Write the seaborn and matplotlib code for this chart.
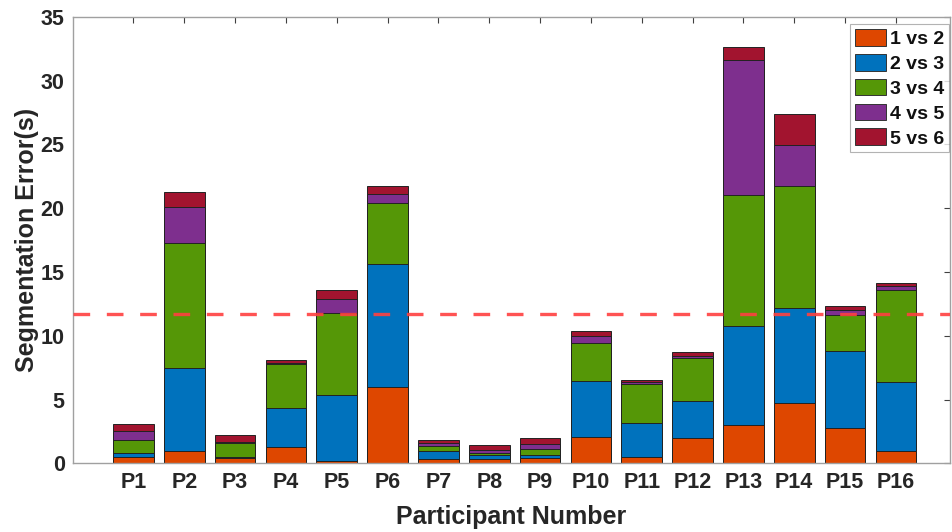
import numpy as np
import pandas as pd
import matplotlib
matplotlib.use('Agg')
import matplotlib.pyplot as plt
import seaborn as sns

# 数据：每个参与者各段的误差（秒）
participants = ['P%d' % i for i in range(1, 17)]
seg_1v2 = [0.5, 0.99, 0.44, 1.3, 0.18, 5.99, 0.36, 0.36, 0.44, 2.08, 0.52, 2.0, 2.97, 4.74, 2.76, 0.99]
seg_2v3 = [0.33, 6.48, 0.08, 3.07, 5.16, 9.61, 0.58, 0.32, 0.24, 4.38, 2.66, 2.9, 7.81, 7.42, 6.07, 5.39]
seg_3v4 = [1.04, 9.77, 1.04, 3.42, 6.43, 4.84, 0.39, 0.13, 0.44, 2.94, 3.04, 3.36, 10.21, 9.61, 2.81, 7.22]
seg_4v5 = [0.63, 2.86, 0.13, 0.1, 1.12, 0.7, 0.26, 0.26, 0.42, 0.6, 0.13, 0.13, 10.61, 3.2, 0.34, 0.33]
seg_5v6 = [0.6, 1.2, 0.52, 0.18, 0.71, 0.56, 0.21, 0.39, 0.46, 0.34, 0.21, 0.31, 1.06, 2.4, 0.34, 0.21]
series_names = ['1 vs 2', '2 vs 3', '3 vs 4', '4 vs 5', '5 vs 6']
series_colors = ['#DE4700', '#0072BD', '#559707', '#7E2F8E', '#A2142F']

sns.set_style('white')
plt.rcParams['font.family'] = ['Liberation Sans', 'DejaVu Sans']
plt.rcParams['font.weight'] = 'bold'

df = pd.DataFrame({'participant': participants, '1 vs 2': seg_1v2, '2 vs 3': seg_2v3,
                   '3 vs 4': seg_3v4, '4 vs 5': seg_4v5, '5 vs 6': seg_5v6})
cum = df[series_names].cumsum(axis=1)

fig = plt.figure(figsize=(9.53, 5.32), dpi=100)
ax = fig.add_axes([0.0766, 0.129, 0.92, 0.8396])

# 堆叠柱：从总高度往下画
handles = {}
for name, color in reversed(list(zip(series_names, series_colors))):
    d = pd.DataFrame({'participant': participants, 'value': cum[name]})
    sns.barplot(data=d, x='participant', y='value', color=color, width=0.8,
                errorbar=None, saturation=1, edgecolor='#222222', linewidth=0.7, ax=ax)
    handles[name] = plt.Rectangle((0, 0), 1, 1, facecolor=color, edgecolor='#333333', linewidth=0.7)

# 平均线
mean_total = cum['5 vs 6'].mean()
ax.axhline(mean_total, color='#FF4040', alpha=0.9, linewidth=2.4, dashes=(5, 5), zorder=5)

ax.set_xlim(-1.19, 16.06)
ax.set_ylim(0, 35)
ax.set_yticks(np.arange(0, 36, 5))
ax.set_xlabel('Participant Number', fontsize=18, fontweight='bold', color='#262626', labelpad=9)
ax.set_ylabel('Segmentation Error(s)', fontsize=18, fontweight='bold', color='#262626', labelpad=1)
ax.tick_params(direction='in', length=4, width=0.8, top=True, right=True, color='#404040',
               labelsize=15.5, labelcolor='#262626', pad=6)
for lab in ax.get_xticklabels() + ax.get_yticklabels():
    lab.set_fontweight('bold')
for sp in ax.spines.values():
    sp.set_color('#A0A0A0')
    sp.set_linewidth(1.0)

leg = ax.legend([handles[n] for n in series_names], series_names, loc='upper right',
                bbox_to_anchor=(949 / 953, 1 - 24 / 532), bbox_transform=fig.transFigure,
                frameon=True, fancybox=False, edgecolor='#A0A0A0',
                handlelength=1.6, handleheight=0.95, handletextpad=0.2, labelspacing=0.3,
                borderpad=0.25, borderaxespad=0, prop={'weight': 'bold', 'size': 14})
leg.get_frame().set_linewidth(0.8)
for t in leg.get_texts():
    t.set_color('#111111')

fig.savefig('out.png', dpi=100)
